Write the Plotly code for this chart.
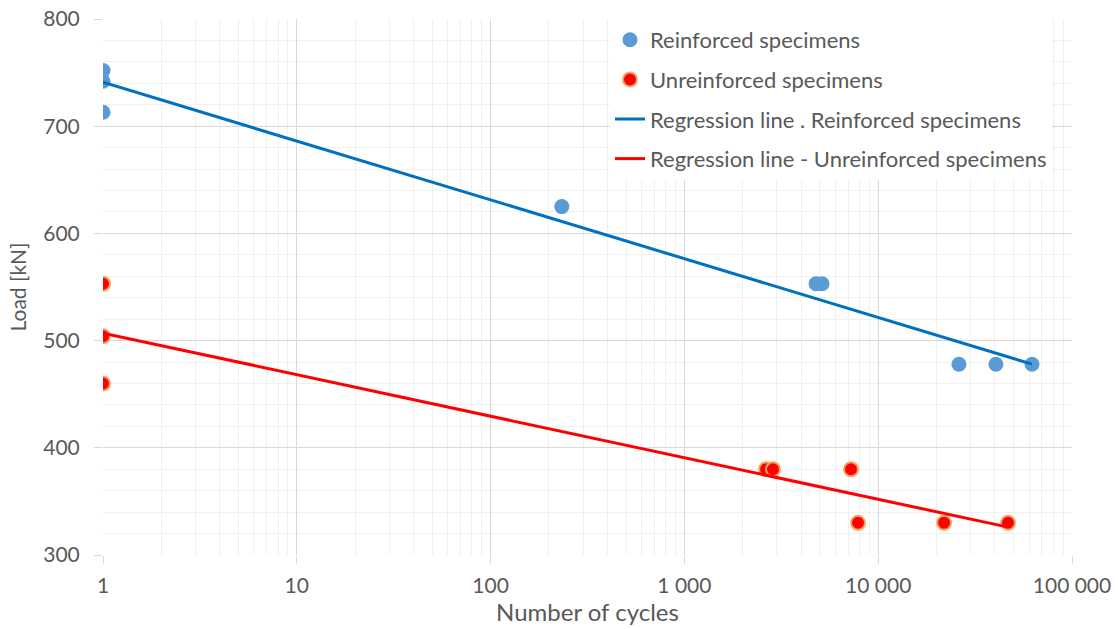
import plotly.graph_objects as go

# Reinforced specimens: cycles to failure and applied load
reinf_cycles = [1, 1, 1, 233, 4780, 5130, 26100, 40500, 62200]
reinf_load = [752, 742, 713, 625, 553, 553, 478, 478, 478]

# Unreinforced specimens
unreinf_cycles = [1, 1, 1, 2640, 2865, 7240, 7870, 21870, 46760]
unreinf_load = [553, 504, 460, 380, 380, 380, 330, 330, 330]

# Regression lines (logarithmic fit, end points)
reg_reinf_cycles = [1, 62200]
reg_reinf_load = [741, 478]
reg_unreinf_cycles = [1, 46760]
reg_unreinf_load = [507, 326]

x_tickvals = [1, 10, 100, 1000, 10000, 100000]
x_ticktext = ["1", "10", "100", "1 000", "10 000", "100 000"]
y_tickvals = [300, 400, 500, 600, 700, 800]

FONT = "Lato"
TXT = "#595959"
GRID = "#D9D9D9"
MINOR = "#F0F0F0"

fig = go.Figure()

fig.add_trace(go.Scatter(
    x=reinf_cycles, y=reinf_load, mode="markers",
    name="Reinforced specimens", legendgroup="a",
    marker=dict(size=15, color="#5B9BD5", line=dict(width=0)),
))
fig.add_trace(go.Scatter(
    x=unreinf_cycles, y=unreinf_load, mode="markers",
    name="Unreinforced specimens", legendgroup="b",
    marker=dict(size=14, color="#FF0000", line=dict(width=2, color="#F4A460")),
))
fig.add_trace(go.Scatter(
    x=reg_reinf_cycles, y=reg_reinf_load, mode="lines",
    name="Regression line . Reinforced specimens", legendgroup="c",
    line=dict(color="#0070C0", width=3),
))
fig.add_trace(go.Scatter(
    x=reg_unreinf_cycles, y=reg_unreinf_load, mode="lines",
    name="Regression line - Unreinforced specimens", legendgroup="d",
    line=dict(color="#FF0000", width=3),
))

fig.update_layout(
    width=1118, height=629,
    margin=dict(l=103, r=46, t=19, b=74, autoexpand=False),
    paper_bgcolor="white", plot_bgcolor="white",
    font=dict(family=FONT, color=TXT, size=21),
    legend=dict(
        x=(610 - 103) / 969, xanchor="left",
        y=1.0, yanchor="top",
        bgcolor="white", borderwidth=0,
        traceorder="grouped", tracegroupgap=8,
        font=dict(family=FONT, color=TXT, size=22),
    ),
    xaxis=dict(
        type="log", range=[0, 5],
        tickvals=x_tickvals, ticktext=x_ticktext,
        showgrid=True, gridcolor=GRID, gridwidth=1,
        ticks="outside", ticklen=8, tickcolor=GRID,
        ticklabelstandoff=4,
        zeroline=False, showline=False,
        minor=dict(showgrid=True, gridcolor=MINOR, dtick="D1", ticks=""),
        title=dict(text="Number of cycles", standoff=6,
                   font=dict(family=FONT, color=TXT, size=24)),
        tickfont=dict(family=FONT, color=TXT, size=21),
    ),
    yaxis=dict(
        range=[300, 800], tickvals=y_tickvals,
        showgrid=True, gridcolor=GRID, gridwidth=1,
        ticks="outside", ticklen=8, tickcolor=GRID,
        ticklabelstandoff=10,
        zeroline=False, showline=False,
        minor=dict(showgrid=True, gridcolor=MINOR, dtick=20, ticks=""),
        title=dict(text="Load [kN]", standoff=10,
                   font=dict(family=FONT, color=TXT, size=21)),
        tickfont=dict(family=FONT, color=TXT, size=21),
    ),
)

fig.write_html("out.html")
